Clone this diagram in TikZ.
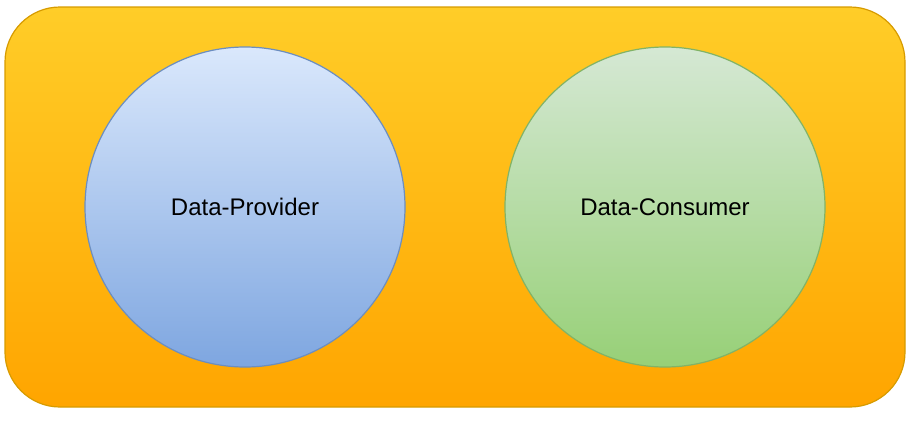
\documentclass[tikz,border=0pt]{standalone}
\usepackage{fontspec}
\setmainfont{Liberation Sans}
\usetikzlibrary{positioning}

\definecolor{boxtop}{HTML}{FFCD28}
\definecolor{boxbot}{HTML}{FFA500}
\definecolor{boxline}{HTML}{D79B00}
\definecolor{provtop}{HTML}{DAE8FC}
\definecolor{provbot}{HTML}{7EA6E0}
\definecolor{provline}{HTML}{6C8EBF}
\definecolor{constop}{HTML}{D5E8D4}
\definecolor{consbot}{HTML}{97D077}
\definecolor{consline}{HTML}{82B366}

\begin{document}
\begin{tikzpicture}[
        x=1pt, y=-1pt,
        outerbox/.style={draw=boxline, line width=1.2pt, rounded corners=55pt,
            top color=boxtop, bottom color=boxbot},
        role/.style={circle, minimum size=320pt, inner sep=0pt, line width=1.2pt,
            font=\fontsize{24}{28}\selectfont},
        provider/.style={role, draw=provline, top color=provtop, bottom color=provbot},
        consumer/.style={role, draw=consline, top color=constop, bottom color=consbot},
    ]
        \useasboundingbox (0,0) rectangle (916,426);

        % Outer container
        \draw[outerbox] (5,7) rectangle (905,407);

        % Provider and consumer
        \node[provider] (prov) at (245,207) {Data-Provider};
        \node[consumer] (cons) at (665,207) {Data-Consumer};
    \end{tikzpicture}
\end{document}
